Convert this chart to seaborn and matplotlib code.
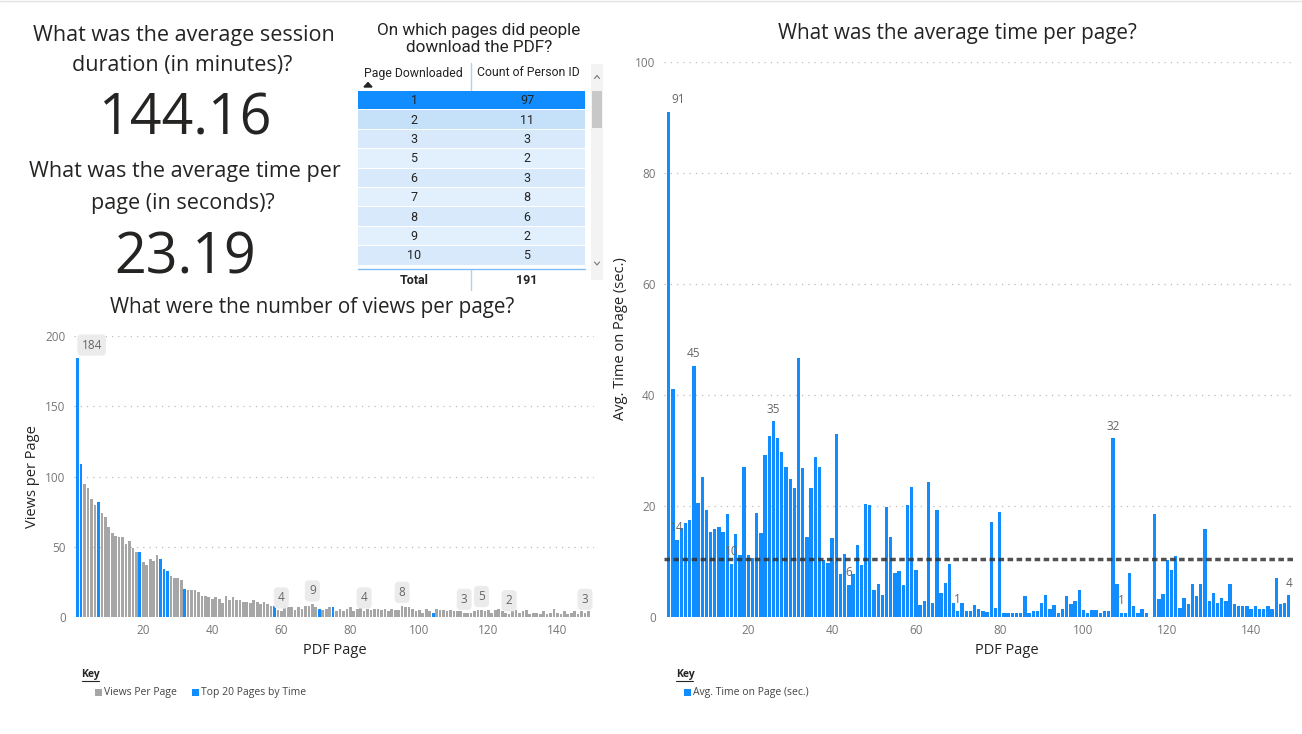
import numpy as np
import pandas as pd
import matplotlib.pyplot as plt
import seaborn as sns
from matplotlib.patches import Rectangle, Polygon
from matplotlib.lines import Line2D

W, H = 1302, 734
BLUE = "#118DFF"
GRAY = "#A6A6A6"
TXT = "#252423"

# --- data ---
kpi_session_minutes = "144.16"
kpi_time_seconds = "23.19"

download_pages = ["1", "2", "3", "5", "6", "7", "8", "9", "10"]
download_counts = [97, 11, 3, 2, 3, 8, 6, 2, 5]
download_total = 191

pages = list(range(1, 150))

views_per_page = [
    184, 109, 95, 92, 84, 80, 82, 74, 71, 64,
    60, 58, 57, 57, 52, 54, 49, 46, 46, 39,
    37, 41, 40, 44, 41, 34, 33, 29, 28, 28,
    26, 20, 19, 19, 19, 18, 15, 15, 14, 13,
    14, 13, 10, 15, 12, 14, 12, 12, 11, 11,
    10, 12, 11, 9, 11, 9, 8, 8, 5, 4,
    7, 7, 7, 5, 7, 6, 8, 8, 9, 7,
    6, 5, 6, 7, 7, 4, 6, 4, 6, 7,
    4, 6, 7, 4, 6, 5, 6, 6, 5, 6,
    4, 6, 5, 5, 8, 7, 7, 6, 4, 5,
    3, 6, 4, 3, 6, 5, 5, 4, 5, 4,
    4, 4, 3, 3, 3, 4, 5, 5, 4, 5,
    3, 5, 6, 4, 3, 2, 4, 5, 3, 4,
    5, 2, 3, 3, 2, 4, 2, 3, 6, 3,
    2, 4, 2, 3, 4, 2, 4, 3, 4,
]
top20_pages = [1, 2, 7, 19, 25, 26, 27, 32, 58, 71, 75, 104]
view_label_pages = [1, 60, 69, 84, 95, 113, 118, 126, 148]

avg_time_per_page = [
    91, 41, 13.9, 16.1, 16.9, 17.4, 45.3, 20.6, 25.2, 19.3,
    15.3, 15.9, 16.3, 15.3, 18.5, 9.6, 15.0, 11.2, 27.1, 11.2,
    10.7, 18.8, 15.2, 29.1, 32.6, 35.3, 32.3, 29.7, 27.0, 24.9,
    23.2, 46.6, 26.9, 14.5, 23.2, 28.9, 27.0, 10.3, 9.7, 14.2,
    33.0, 7.7, 11.4, 5.8, 7.7, 12.9, 9.4, 20.3, 20.1, 4.9,
    5.9, 4.0, 19.9, 14.4, 8.0, 8.3, 5.8, 20.1, 23.4, 8.5,
    2.1, 2.9, 24.3, 2.6, 19.2, 4.3, 6.2, 9.5, 2.5, 1.0,
    2.5, 1.1, 1.1, 2.1, 1.4, 1.0, 0.9, 17.1, 1.6, 18.9,
    0.8, 0.8, 0.8, 0.8, 0.8, 3.8, 0.8, 1.1, 1.1, 2.6,
    3.9, 1.4, 2.1, 0.8, 1.4, 3.8, 2.3, 2.8, 4.9, 1.2,
    0.8, 1.3, 1.2, 0.8, 1.1, 1.1, 32.2, 5.9, 0.8, 0.8,
    7.9, 1.9, 0.8, 1.4, 0.8, 0.0, 18.5, 3.2, 4.1, 10.2,
    8.5, 11.0, 1.6, 3.4, 2.4, 5.9, 3.8, 5.9, 15.9, 2.9,
    4.4, 2.5, 3.4, 2.9, 5.9, 2.3, 1.9, 1.9, 1.9, 1.4,
    1.9, 1.4, 1.4, 1.9, 1.4, 7.1, 2.3, 2.6, 3.9,
]
time_label_pages = [1, 3, 7, 16, 26, 44, 70, 107, 109, 149]
avg_time_line = 10.5

x_ticks = [20, 40, 60, 80, 100, 120, 140]
views_ticks = [0, 50, 100, 150, 200]
time_ticks = [0, 20, 40, 60, 80, 100]

sns.set_style("white")
plt.rcParams["font.family"] = ["Open Sans", "DejaVu Sans"]

fig = plt.figure(figsize=(W / 100, H / 100), dpi=100)

# full-figure pixel canvas for texts / table
bg = fig.add_axes([0, 0, 1, 1], zorder=-1)
bg.set_xlim(0, W)
bg.set_ylim(H, 0)
bg.axis("off")


def px_axes(x0, y0, x1, y1):
    ax = fig.add_axes([x0 / W, 1 - y1 / H, (x1 - x0) / W, (y1 - y0) / H])
    ax.patch.set_alpha(0)
    return ax


def style_axes(ax, yticks):
    ax.set_xticks(x_ticks)
    ax.set_yticks(yticks)
    ax.set_xlabel("")
    ax.set_ylabel("")
    ax.tick_params(axis="both", length=0, labelsize=8.5, labelcolor="#777777")
    ax.tick_params(axis="y", pad=6)
    ax.tick_params(axis="x", pad=5)
    ax.set_axisbelow(True)
    ax.yaxis.grid(True, linestyle=(0, (1, 4)), color="#BDBDBD", linewidth=0.9)
    ax.get_ygridlines()[0].set_visible(False)
    sns.despine(ax=ax, left=True, bottom=True)


# --- KPI cards ---
kfs = 15.5
bg.text(184, 35, "What was the average session", fontsize=kfs, color=TXT, ha="center", va="center")
bg.text(182, 66, "duration (in minutes)?", fontsize=kfs, color=TXT, ha="center", va="center")
bg.text(185, 120, kpi_session_minutes, fontsize=40, color=TXT, ha="center", va="center")
bg.text(185, 172, "What was the average time per", fontsize=kfs, color=TXT, ha="center", va="center")
bg.text(183, 203, "page (in seconds)?", fontsize=kfs, color=TXT, ha="center", va="center")
bg.text(185, 259, kpi_time_seconds, fontsize=40, color=TXT, ha="center", va="center")

# --- downloads table ---
tfont = ["Roboto", "DejaVu Sans"]
bg.text(479, 30, "On which pages did people", fontsize=12.3, color=TXT, ha="center", va="center", family=tfont)
bg.text(479, 48, "download the PDF?", fontsize=12.3, color=TXT, ha="center", va="center", family=tfont)
c1, c2 = 414, 527
bg.text(c1 - 1, 73, "Page Downloaded", fontsize=8.8, color=TXT, ha="center", va="center", family=tfont)
bg.text(c2 + 1, 73, "Count of Person ID", fontsize=8.8, color=TXT, ha="center", va="center", family=tfont)
bg.add_patch(Polygon([(364, 87), (372, 87), (368, 82.5)], closed=True, color="#252423"))
bg.add_line(Line2D([470.7, 470.7], [63, 90], color="#A9D2F7", lw=1))
row_h = 19.4
for i, (pg, cnt) in enumerate(zip(download_pages, download_counts)):
    top = 91 + i * row_h
    if i == 0:
        fc = BLUE
    elif i == 1:
        fc = "#C5E0F9"
    else:
        fc = "#D7E9FB" if i % 2 == 0 else "#E2EFFC"
    bg.add_patch(Rectangle((358, top), 227, row_h - 1, fc=fc, ec="none"))
    bg.text(c1, top + row_h / 2, pg, fontsize=9, color=TXT, ha="center", va="center", family=tfont)
    bg.text(c2, top + row_h / 2, str(cnt), fontsize=9, color=TXT, ha="center", va="center", family=tfont)
bg.add_line(Line2D([358, 585], [269, 269], color="#7FBDF5", lw=1))
bg.add_line(Line2D([470.7, 470.7], [270, 290], color="#A9D2F7", lw=1))
bg.text(c1, 280, "Total", fontsize=9, color=TXT, ha="center", va="center", weight="bold", family=tfont)
bg.text(c2, 280, str(download_total), fontsize=9, color=TXT, ha="center", va="center", weight="bold", family=tfont)
# scrollbar
bg.add_patch(Rectangle((591, 64), 12, 216, fc="#F3F3F3", ec="none"))
bg.add_patch(Rectangle((592, 91), 10, 37, fc="#C8C8C8", ec="none"))
bg.add_line(Line2D([594.5, 597, 599.5], [78.5, 75.5, 78.5], color="#777777", lw=0.8))
bg.add_line(Line2D([594.5, 597, 599.5], [262, 265, 262], color="#777777", lw=0.8))

# --- views per page chart ---
bg.text(312, 308, "What were the number of views per page?", fontsize=14.9, color=TXT, ha="center", va="center")
df_views = pd.DataFrame({"page": pages, "views": views_per_page})
df_views["group"] = np.where(df_views["page"].isin(top20_pages), "Top 20 Pages by Time", "Views Per Page")
ax1 = px_axes(74, 336, 594, 617)
sns.barplot(data=df_views, x="page", y="views", hue="group",
            palette={"Views Per Page": GRAY, "Top 20 Pages by Time": BLUE},
            native_scale=True, width=0.78, dodge=False, errorbar=None,
            saturation=1, legend=False, linewidth=0, ax=ax1)
ax1.set_xlim(-0.07, 150.6)
ax1.set_ylim(0, 200)
style_axes(ax1, views_ticks)
for p in view_label_pages:
    v = views_per_page[p - 1]
    dx = 10 if p == 1 else 0
    ax1.annotate(f"{v:.0f}", (p, v), xytext=(dx, 5), textcoords="offset points",
                 ha="center", va="bottom", fontsize=8.5, color="#666666", zorder=10,
                 bbox=dict(boxstyle="round,pad=0.35", fc="#EBEBEB", ec="none"))
bg.text(32, 477, "Views per Page", fontsize=10.5, color=TXT, rotation=90, ha="center", va="center")
bg.text(335, 650, "PDF Page", fontsize=10.5, color=TXT, ha="center", va="center")

# --- avg time per page chart ---
bg.text(957, 33, "What was the average time per page?", fontsize=14.9, color=TXT, ha="center", va="center")
df_time = pd.DataFrame({"page": pages, "time": avg_time_per_page})
ax2 = px_axes(664, 62, 1293, 617)
sns.barplot(data=df_time, x="page", y="time", color=BLUE, native_scale=True,
            width=0.8, errorbar=None, saturation=1, linewidth=0, ax=ax2)
ax2.set_xlim(-0.12, 150.0)
ax2.set_ylim(0, 100)
style_axes(ax2, time_ticks)
ax2.axhline(avg_time_line, color="#333333", alpha=0.85, lw=2.5, linestyle=(0, (1.6, 1)), zorder=5)
for p in time_label_pages:
    v = avg_time_per_page[p - 1]
    dx = 7 if p == 1 else 0
    ax2.annotate(f"{v:.0f}", (p, v), xytext=(dx, 4), textcoords="offset points",
                 ha="center", va="bottom", fontsize=8.5, color="#666666", zorder=10)
bg.text(620, 339, "Avg. Time on Page (sec.)", fontsize=10.5, color=TXT, rotation=90, ha="center", va="center")
bg.text(1007, 650, "PDF Page", fontsize=10.5, color=TXT, ha="center", va="center")


# --- keys ---
def key(x, y):
    bg.text(x, y, "Key", fontsize=7.5, color=TXT, weight="bold", ha="left", va="center")
    bg.add_line(Line2D([x, x + 17], [y + 6, y + 6], color=TXT, lw=0.8))


def key_item(x, y, color, label):
    bg.add_patch(Rectangle((x, y - 3), 6.5, 6.5, fc=color, ec="none"))
    bg.text(x + 9, y, label, fontsize=7.5, color="#444444", ha="left", va="center")


key(81.5, 675)
key_item(95, 692, GRAY, "Views Per Page")
key_item(192, 692, BLUE, "Top 20 Pages by Time")
key(676, 675)
key_item(684, 692, BLUE, "Avg. Time on Page (sec.)")

bg.add_line(Line2D([0, W], [0.5, 0.5], color="#E3E3E3", lw=1))

fig.savefig("out.png", dpi=100)
